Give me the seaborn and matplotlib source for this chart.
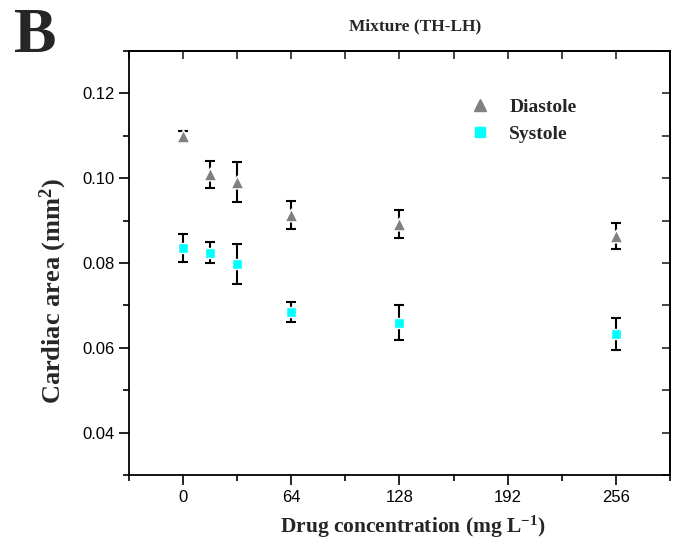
import matplotlib
matplotlib.use("Agg")
import matplotlib.pyplot as plt
from matplotlib.ticker import MultipleLocator, FormatStrFormatter
from matplotlib.lines import Line2D
import numpy as np
import pandas as pd
import seaborn as sns

# data
conc = [0, 16, 32, 64, 128, 256]
diastole = [0.1099, 0.1009, 0.0991, 0.0913, 0.0892, 0.0864]
diastole_err = [0.0013, 0.0032, 0.0048, 0.0033, 0.0032, 0.0031]
systole = [0.0835, 0.0824, 0.0798, 0.0685, 0.0659, 0.0633]
systole_err = [0.0033, 0.0025, 0.0047, 0.0024, 0.0041, 0.0038]
groups = ['Diastole', 'Systole']
colors = ['#808080', '#00ffff']
markers = ['^', 's']
marker_sizes = [85, 52]

df = pd.DataFrame({
    'conc': conc * 2,
    'area': diastole + systole,
    'err': diastole_err + systole_err,
    'phase': ['Diastole'] * len(conc) + ['Systole'] * len(conc),
})

sns.set_style('white')
plt.rcParams['font.family'] = ['Liberation Sans', 'DejaVu Sans']
plt.rcParams['mathtext.fontset'] = 'custom'
plt.rcParams['mathtext.rm'] = 'Liberation Serif:bold'
plt.rcParams['mathtext.it'] = 'Liberation Serif:bold'
plt.rcParams['mathtext.bf'] = 'Liberation Serif:bold'

serif_bold = dict(family='Liberation Serif', weight='bold')

fig = plt.figure(figsize=(6.77, 5.47), dpi=100)
ax = fig.add_axes([0.1905, 0.1316, 0.7992, 0.7752])

for g, c, m, s in zip(groups, colors, markers, marker_sizes):
    sub = df[df['phase'] == g]
    ax.errorbar(sub['conc'], sub['area'], yerr=sub['err'], fmt='none',
                ecolor='black', elinewidth=1.5, capsize=3.8, capthick=1.5, zorder=2)
    sns.scatterplot(data=sub, x='conc', y='area', color=c, marker=m, s=s,
                    edgecolor='white', linewidth=1.0, zorder=3, ax=ax, legend=False)

ax.set_xlim(-32, 288)
ax.set_ylim(0.03, 0.13)
ax.set_xticks([0, 64, 128, 192, 256])
ax.set_yticks([0.04, 0.06, 0.08, 0.10, 0.12])
ax.xaxis.set_minor_locator(MultipleLocator(32))
ax.yaxis.set_minor_locator(MultipleLocator(0.01))
ax.yaxis.set_major_formatter(FormatStrFormatter('%.2f'))
ax.tick_params(which='both', direction='out', width=1.2, colors='black',
               labelsize=12, bottom=True, left=True)
ax.tick_params(which='major', length=7)
ax.tick_params(which='minor', length=4)

for side in ['top', 'right']:
    if side == 'top':
        sec = ax.secondary_xaxis('top')
        sec.set_xticks([0, 64, 128, 192, 256])
        sec.xaxis.set_minor_locator(MultipleLocator(32))
    else:
        sec = ax.secondary_yaxis('right')
        sec.set_yticks([0.04, 0.06, 0.08, 0.10, 0.12])
        sec.yaxis.set_minor_locator(MultipleLocator(0.01))
    sec.tick_params(which='both', direction='in', width=1.2, length=6,
                    labeltop=False, labelright=False)
    sec.spines[side].set_linewidth(1.3)

for s in ax.spines.values():
    s.set_linewidth(1.3)
    s.set_color('black')

ax.set_xlabel('Drug concentration (mg L$^{-1}$)', fontsize=15.5, **serif_bold)
ax.xaxis.set_label_coords(0.525, -0.092)
ax.set_ylabel('Cardiac area (mm$^{2}$)', fontsize=19, **serif_bold)
ax.yaxis.set_label_coords(-0.11, 0.434)
ax.set_title('Mixture (TH-LH)', fontsize=12.5, pad=15, x=0.528, **serif_bold)
fig.text(0.02, 0.985, 'B', fontsize=46, va='top', ha='left', **serif_bold)

handles = [Line2D([], [], marker=m, color=c, linestyle='none', markersize=ms)
           for m, c, ms in zip(markers, colors, [9, 7.5])]
ax.legend(handles, groups, loc='upper left', bbox_to_anchor=(0.581, 0.93),
          frameon=False, handletextpad=0.5, labelspacing=0.5,
          prop=dict(family='Liberation Serif', weight='bold', size=14))

fig.savefig('out.png', dpi=100)
